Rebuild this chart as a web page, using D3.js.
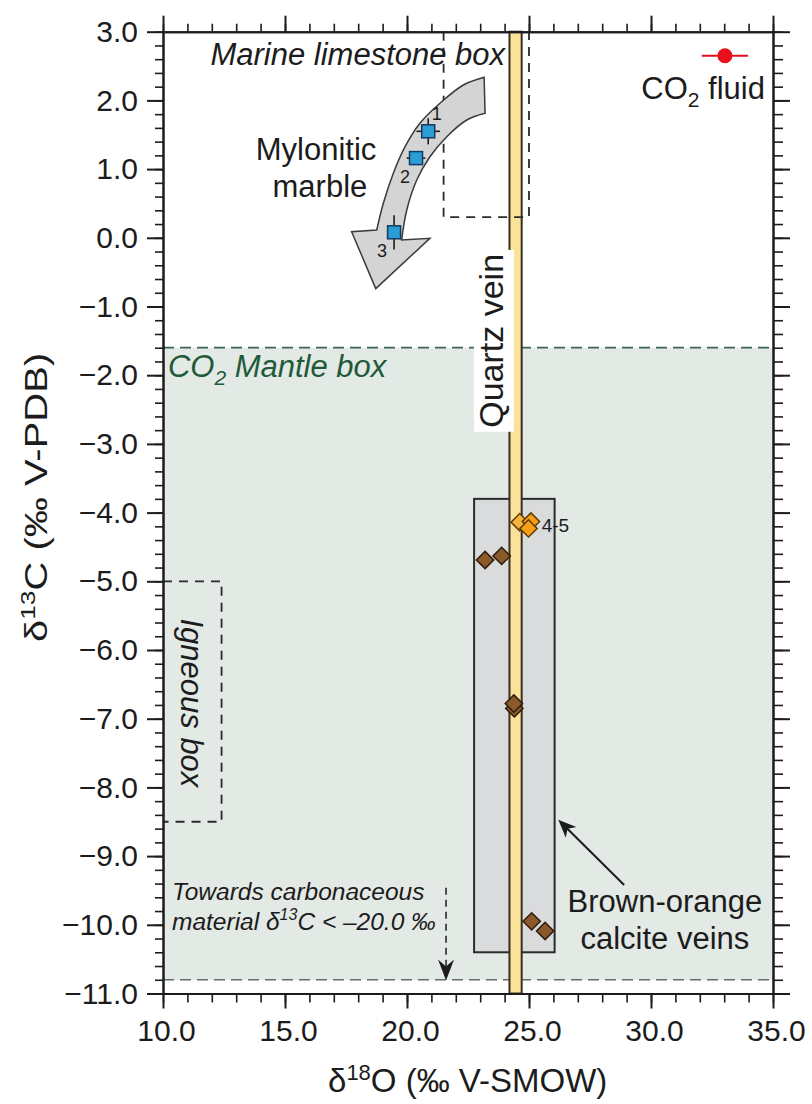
<!DOCTYPE html>
<html><head><meta charset="utf-8">
<script src="https://cdn.jsdelivr.net/npm/d3@7"></script>
<style>
html,body{margin:0;padding:0;background:#fff;}
svg{display:block;font-family:"Liberation Sans",Arial,Helvetica,sans-serif;}
</style></head><body>
<svg id="chart" width="812" height="1104"></svg>
<script>
// ---------- data ----------
const xDomain = [10, 35];
const yDomain = [-11, 3];
const xTickValues = [10, 15, 20, 25, 30, 35];
const yTickValues = [3, 2, 1, 0, -1, -2, -3, -4, -5, -6, -7, -8, -9, -10, -11];

// mylonitic marble (blue squares)
const marbleLabels = ["1", "2", "3"];
const marbleD18O = [20.87, 20.37, 19.47];
const marbleD13C = [1.55, 1.16, 0.08];
const marbleErrD18O = [0.48, 0.38, 0.2];
const marbleErrD13C = [0.19, 0.05, 0.25];

// brown calcite veins
const brownD18O = [23.2, 23.88, 24.4, 24.38, 25.11, 25.66];
const brownD13C = [-4.69, -4.63, -6.85, -6.78, -9.95, -10.09];
// orange calcite veins (4-5)
const orangeD18O = [24.62, 25.08, 24.98];
const orangeD13C = [-4.14, -4.13, -4.23];

// CO2 fluid
const co2D18O = [33.03];
const co2D13C = [2.65];
const co2ErrD18O = [0.95];

// reference fields
const mantleBoxD18O = [10, 35];
const mantleBoxD13C = [-10.8, -1.6];
const igneousBoxD18O = [10, 12.4];
const igneousBoxD13C = [-8.5, -5.0];
const marineBoxD18O = [21.5, 25.0];
const marineBoxD13C = [0.3, 3.0];
const calciteBoxD18O = [22.75, 26.05];
const calciteBoxD13C = [-10.4, -3.8];
const quartzVeinD18O = [24.2, 24.7];

// curved trend arrow outline (data units)
const arrowOuterD18O = [23.16, 22.31, 21.35, 20.53, 19.92, 19.44, 19.03, 18.76];
const arrowOuterD13C = [2.336, 2.224, 1.958, 1.667, 1.326, 0.939, 0.502, 0.114];
const arrowHeadD18O = [17.73, 18.72, 20.94];
const arrowHeadD13C = [0.089, -0.74, -0.007];
const arrowInnerD18O = [19.78, 19.99, 20.40, 20.94, 21.63, 22.45, 23.20];
const arrowInnerD13C = [-0.032, 0.405, 0.841, 1.180, 1.472, 1.715, 1.812];

// ---------- layout ----------
const svg = d3.select("#chart");
const M = {left: 163, top: 31.7, right: 773, bottom: 993.5};
const x = d3.scaleLinear().domain(xDomain).range([M.left, M.right]);
const y = d3.scaleLinear().domain(yDomain).range([M.bottom, M.top]);
const INK = "#1c1c1c";

const plot = svg.append("g");

// mantle box fill
plot.append("rect")
  .attr("x", x(mantleBoxD18O[0])).attr("y", y(mantleBoxD13C[1]))
  .attr("width", x(mantleBoxD18O[1]) - x(mantleBoxD18O[0]))
  .attr("height", y(mantleBoxD13C[0]) - y(mantleBoxD13C[1]))
  .attr("fill", "#e3e9e5");
plot.selectAll("line.mantle").data(mantleBoxD13C).join("line")
  .attr("x1", x(mantleBoxD18O[0])).attr("x2", x(mantleBoxD18O[1]))
  .attr("y1", d => y(d)).attr("y2", d => y(d))
  .attr("stroke", (d, i) => i === 1 ? "#3f6453" : "#5f6f68")
  .attr("stroke-width", 1.7).attr("stroke-dasharray", "11,6");

// igneous box
plot.append("path")
  .attr("d", `M${x(igneousBoxD18O[0])},${y(igneousBoxD13C[1])}H${x(igneousBoxD18O[1])}V${y(igneousBoxD13C[0])}H${x(igneousBoxD18O[0])}`)
  .attr("fill", "none").attr("stroke", "#2a2a2a").attr("stroke-width", 1.8).attr("stroke-dasharray", "9,7");

// calcite box
plot.append("rect")
  .attr("x", x(calciteBoxD18O[0])).attr("y", y(calciteBoxD13C[1]))
  .attr("width", x(calciteBoxD18O[1]) - x(calciteBoxD18O[0]))
  .attr("height", y(calciteBoxD13C[0]) - y(calciteBoxD13C[1]))
  .attr("fill", "#d9dbdc").attr("stroke", "#2b2b2b").attr("stroke-width", 2);

// quartz vein band
plot.append("rect")
  .attr("x", x(quartzVeinD18O[0])).attr("y", y(yDomain[1]))
  .attr("width", x(quartzVeinD18O[1]) - x(quartzVeinD18O[0]))
  .attr("height", y(yDomain[0]) - y(yDomain[1]))
  .attr("fill", "#fbe29a").attr("stroke", "#3a2f1e").attr("stroke-width", 2);

// marine limestone box
plot.append("path")
  .attr("d", `M${x(marineBoxD18O[0])},${y(marineBoxD13C[1])}V${y(marineBoxD13C[0])}H${x(marineBoxD18O[1])}V${y(marineBoxD13C[1])}`)
  .attr("fill", "none").attr("stroke", "#2a2a2a").attr("stroke-width", 1.8).attr("stroke-dasharray", "9,7");

// Quartz vein label with white background
const qg = plot.append("g").attr("transform", `translate(${x(23.93)},${y(-1.5)}) rotate(-90)`);
const qbg = qg.append("rect").attr("fill", "#fff");
const qt = qg.append("text").attr("text-anchor", "middle").attr("fill", INK)
  .style("font-size", "34px").text("Quartz vein");
const qb = qt.node().getBBox();
qbg.attr("x", qb.x - 4).attr("y", qb.y + 2).attr("width", qb.width + 8).attr("height", qb.height + 2);

// curved trend arrow
const curveGen = d3.line().x(d => x(d[0])).y(d => y(d[1])).curve(d3.curveCatmullRom.alpha(0.5));
const outerPts = arrowOuterD18O.map((v, i) => [v, arrowOuterD13C[i]]);
const innerPts = arrowInnerD18O.map((v, i) => [v, arrowInnerD13C[i]]);
const headPts = arrowHeadD18O.map((v, i) => [v, arrowHeadD13C[i]]);
const arrowPath = curveGen(outerPts) +
  headPts.map(p => `L${x(p[0])},${y(p[1])}`).join("") +
  curveGen(innerPts).replace(/^M/, "L") + "Z";
plot.append("path").attr("d", arrowPath)
  .attr("fill", "#d4d4d4").attr("stroke", "#3a3a3a").attr("stroke-width", 1.5).attr("stroke-linejoin", "miter");

// marble error bars + squares
const marble = marbleD18O.map((v, i) => ({x: v, y: marbleD13C[i], ex: marbleErrD18O[i], ey: marbleErrD13C[i], lab: marbleLabels[i]}));
plot.selectAll("line.mex").data(marble).join("line")
  .attr("x1", d => x(d.x - d.ex)).attr("x2", d => x(d.x + d.ex))
  .attr("y1", d => y(d.y)).attr("y2", d => y(d.y))
  .attr("stroke", INK).attr("stroke-width", 1.6);
plot.selectAll("line.mey").data(marble).join("line")
  .attr("x1", d => x(d.x)).attr("x2", d => x(d.x))
  .attr("y1", d => y(d.y - d.ey)).attr("y2", d => y(d.y + d.ey))
  .attr("stroke", INK).attr("stroke-width", 1.6);
plot.selectAll("rect.marble").data(marble).join("rect")
  .attr("x", d => x(d.x) - 6.5).attr("y", d => y(d.y) - 6.5)
  .attr("width", 13).attr("height", 13)
  .attr("fill", "#2b9dd6").attr("stroke", "#173a5c").attr("stroke-width", 1.5);
const marbleLabelPos = [[21.22, 1.715], [19.92, 0.80], [18.98, -0.275]];
plot.selectAll("text.mlab").data(marble).join("text")
  .attr("x", (d, i) => x(marbleLabelPos[i][0])).attr("y", (d, i) => y(marbleLabelPos[i][1]))
  .attr("text-anchor", "middle").attr("fill", INK).style("font-size", "18px")
  .text(d => d.lab);

// diamonds
const diamond = d3.symbol(d3.symbolSquare, 150);
const brown = brownD18O.map((v, i) => [v, brownD13C[i]]);
const orange = orangeD18O.map((v, i) => [v, orangeD13C[i]]);
plot.selectAll("path.brown").data(brown).join("path")
  .attr("d", diamond)
  .attr("transform", d => `translate(${x(d[0])},${y(d[1])}) rotate(45)`)
  .attr("fill", "#8b5a2b").attr("stroke", "#2e1d0e").attr("stroke-width", 1.5);
plot.selectAll("path.orange").data(orange).join("path")
  .attr("d", diamond)
  .attr("transform", d => `translate(${x(d[0])},${y(d[1])}) rotate(45)`)
  .attr("fill", (d, i) => i === 0 ? "#f6b43e" : "#f59f17").attr("stroke", "#5e3a05").attr("stroke-width", 1.5);

// CO2 fluid
const co2 = co2D18O.map((v, i) => ({x: v, y: co2D13C[i], ex: co2ErrD18O[i]}));
plot.selectAll("line.co2").data(co2).join("line")
  .attr("x1", d => x(d.x - d.ex)).attr("x2", d => x(d.x + d.ex))
  .attr("y1", d => y(d.y)).attr("y2", d => y(d.y))
  .attr("stroke", "#e0101c").attr("stroke-width", 2);
plot.selectAll("circle.co2").data(co2).join("circle")
  .attr("cx", d => x(d.x)).attr("cy", d => y(d.y)).attr("r", 7.5)
  .attr("fill", "#e8101d");

// arrows
function arrowHead(tipX, tipY, fromX, fromY, len, half, notch) {
  const a = Math.atan2(tipY - fromY, tipX - fromX);
  const c = Math.cos(a), s = Math.sin(a);
  const p = (l, w) => [tipX - l * c - w * s, tipY - l * s + w * c];
  const b1 = p(len, half), b2 = p(len, -half), n = p(notch, 0);
  return `M${tipX},${tipY}L${b1[0]},${b1[1]}L${n[0]},${n[1]}L${b2[0]},${b2[1]}Z`;
}
// pointer to calcite box
{
  const tx = x(28.9), ty = y(-9.42), hx = x(26.2), hy = y(-8.47);
  plot.append("line").attr("x1", tx).attr("y1", ty).attr("x2", hx + (tx - hx) * 0.1).attr("y2", hy + (ty - hy) * 0.1)
    .attr("stroke", INK).attr("stroke-width", 2);
  plot.append("path").attr("d", arrowHead(hx, hy, tx, ty, 18, 7.5, 13)).attr("fill", INK);
}
// dashed arrow towards carbonaceous material
{
  const ax = x(21.6), y0 = y(-9.46), tip = y(-10.81);
  plot.append("line").attr("x1", ax).attr("x2", ax).attr("y1", y0).attr("y2", tip - 12)
    .attr("stroke", INK).attr("stroke-width", 1.5).attr("stroke-dasharray", "7,5");
  plot.append("path").attr("d", arrowHead(ax, tip, ax, y0, 21, 8, 14)).attr("fill", INK);
}

// ---------- text annotations ----------
function txt(px, py, str, size, opts = {}) {
  const t = plot.append("text").attr("x", px).attr("y", py)
    .attr("text-anchor", opts.anchor || "start").attr("fill", opts.fill || INK)
    .style("font-size", size + "px");
  if (opts.italic) t.style("font-style", "italic");
  if (str != null) t.text(str);
  return t;
}
txt(x(24.02), y(2.515), "Marine limestone box", 31, {anchor: "end", italic: true});
txt(x(16.27), y(1.133), "Mylonitic", 31, {anchor: "middle"});
txt(x(16.43), y(0.598), "marble", 31, {anchor: "middle"});
{
  const t = txt(x(34.67), y(2.02), null, 31, {anchor: "end"});
  t.append("tspan").text("CO");
  t.append("tspan").attr("dy", 8).style("font-size", "21px").text("2");
  t.append("tspan").attr("dy", -8).text(" fluid");
}
{
  const t = txt(x(10.2), y(-2.03), null, 31, {italic: true, fill: "#1f5a3b"});
  t.append("tspan").text("CO");
  t.append("tspan").attr("dy", 8).style("font-size", "21px").text("2");
  t.append("tspan").attr("dy", -8).text(" Mantle box");
}
txt(x(25.52), y(-4.28), "4-5", 19);
txt(x(30.57), y(-9.81), "Brown-orange", 31, {anchor: "middle"});
txt(x(30.57), y(-10.35), "calcite veins", 31, {anchor: "middle"});
txt(x(10.37), y(-9.64), "Towards carbonaceous", 24.5, {italic: true});
{
  const t = txt(x(10.37), y(-10.07), null, 24.5, {italic: true});
  t.append("tspan").text("material \u03b4");
  t.append("tspan").attr("dy", -10).style("font-size", "16px").text("13");
  t.append("tspan").attr("dy", 10).text("C < \u201320.0 \u2030");
}
plot.append("text")
  .attr("transform", `translate(${x(10.74)},${y(-6.77)}) rotate(90)`)
  .attr("text-anchor", "middle").attr("fill", INK)
  .style("font-size", "31px").style("font-style", "italic").text("Igneous box");

// ---------- axes ----------
const fmt = d3.format(".1f");
const yMinor = d3.range(-11, 3.001, 0.2).map(v => +v.toFixed(1));
const xMinor = d3.range(10, 35.001, 1);
function styleAxis(g, w) {
  g.select(".domain").attr("stroke", INK).attr("stroke-width", 2);
  g.selectAll(".tick line").attr("stroke", INK).attr("stroke-width", w);
  g.selectAll(".tick text").attr("fill", INK).style("font-size", "30px")
    .style("font-family", '"Liberation Sans", Arial, Helvetica, sans-serif');
  g.attr("font-family", null).attr("font-size", null);
}
// minor ticks
svg.append("g").attr("transform", `translate(${M.left},0)`)
  .call(d3.axisLeft(y).tickValues(yMinor).tickSize(8).tickSizeOuter(0).tickFormat(""))
  .call(g => styleAxis(g, 1.6));
svg.append("g").attr("transform", `translate(${M.right},0)`)
  .call(d3.axisRight(y).tickValues(yMinor).tickSize(10).tickSizeOuter(0).tickFormat(""))
  .call(g => styleAxis(g, 1.6));
svg.append("g").attr("transform", `translate(0,${M.bottom})`)
  .call(d3.axisBottom(x).tickValues(xMinor).tickSize(9).tickSizeOuter(0).tickFormat(""))
  .call(g => styleAxis(g, 1.6));
svg.append("g").attr("transform", `translate(0,${M.top})`)
  .call(d3.axisTop(x).tickValues(xMinor).tickSize(8).tickSizeOuter(0).tickFormat(""))
  .call(g => styleAxis(g, 1.6));
// major ticks
svg.append("g").attr("transform", `translate(${M.left},0)`)
  .call(d3.axisLeft(y).tickValues(yTickValues).tickSize(16).tickSizeOuter(0).tickPadding(9).tickFormat(fmt))
  .call(g => styleAxis(g, 2));
svg.append("g").attr("transform", `translate(${M.right},0)`)
  .call(d3.axisRight(y).tickValues(yTickValues).tickSize(17).tickSizeOuter(0).tickFormat(""))
  .call(g => styleAxis(g, 2));
svg.append("g").attr("transform", `translate(0,${M.bottom})`)
  .call(d3.axisBottom(x).tickValues(xTickValues).tickSize(15).tickSizeOuter(0).tickPadding(11).tickFormat(fmt))
  .call(g => styleAxis(g, 2))
  .call(g => g.selectAll(".tick text").attr("dx", 3));
svg.append("g").attr("transform", `translate(0,${M.top})`)
  .call(d3.axisTop(x).tickValues(xTickValues).tickSize(16).tickSizeOuter(0).tickFormat(""))
  .call(g => styleAxis(g, 2));

// axis titles
{
  const t = svg.append("text").attr("x", 328).attr("y", 1092).attr("fill", INK).style("font-size", "33px");
  t.append("tspan").text("\u03b4");
  t.append("tspan").attr("dy", -12).style("font-size", "22px").text("18");
  t.append("tspan").attr("dy", 12).text("O (\u2030 V-SMOW)");
}
{
  const t = svg.append("text").attr("fill", INK).style("font-size", "32px");
  t.append("tspan").text("\u03b4");
  t.append("tspan").attr("dy", -12).style("font-size", "21px").text("13");
  t.append("tspan").attr("dy", 12).text("C (\u2030 V-PDB)");
  const len = t.node().getComputedTextLength();
  const k = Math.min(1.25, 290 / len);
  t.attr("transform", `translate(47,642) rotate(-90) scale(${k},1)`);
}
</script>
</body></html>
